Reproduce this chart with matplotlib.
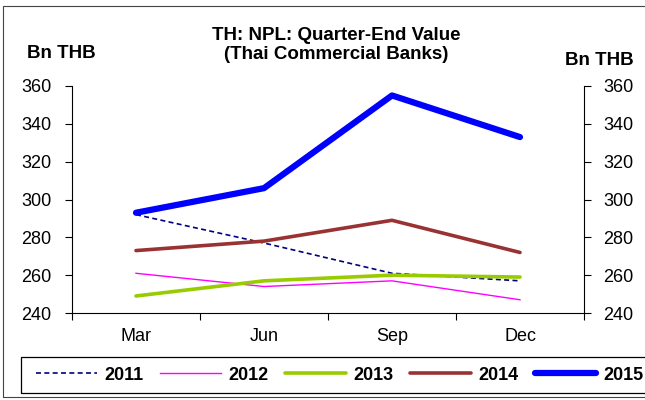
import matplotlib.pyplot as plt
from matplotlib.patches import Rectangle

plt.rcParams['font.family'] = ['Liberation Sans', 'DejaVu Sans']

quarters = ["Mar", "Jun", "Sep", "Dec"]
npl_2011 = [292, 277, 261, 257]
npl_2012 = [261, 254, 257, 247]
npl_2013 = [249, 257, 260, 259]
npl_2014 = [273, 278, 289, 272]
npl_2015 = [293, 306, 355, 333]

yticks = [240, 260, 280, 300, 320, 340, 360]

W, H = 645, 400
fig = plt.figure(figsize=(W / 100, H / 100), dpi=100)
ax = fig.add_axes([72 / W, 1 - 313 / H, (584 - 72) / W, (313 - 86) / H])

x = range(len(quarters))
ax.plot(x, npl_2011, color="#000080", lw=1.2, ls=(0, (3, 2)), label="2011")
ax.plot(x, npl_2012, color="#ff00ff", lw=1.0, label="2012")
ax.plot(x, npl_2013, color="#99cc00", lw=2.6, solid_capstyle="round", label="2013")
ax.plot(x, npl_2014, color="#993333", lw=2.6, solid_capstyle="round", label="2014")
ax.plot(x, npl_2015, color="#0000ff", lw=4.5, solid_capstyle="round",
        solid_joinstyle="round", label="2015")

ax.set_xlim(-0.5, 3.5)
ax.set_ylim(240, 360)
ax.set_yticks(yticks)
ax.tick_params(axis="y", direction="out", length=5, labelsize=13, pad=10)
ax.set_xticks(list(x))
ax.set_xticklabels(quarters)
ax.tick_params(axis="x", length=0, labelsize=13, pad=11)
# category separators, plus short stubs where the side axes cross the bottom
ax.set_xticks([-0.5, 0.5, 1.5, 2.5, 3.5], minor=True)
ax.tick_params(axis="x", which="minor", direction="out", length=5, width=0.8)
ax.spines["top"].set_visible(False)
ax.spines["right"].set_visible(False)
for s in ["left", "bottom"]:
    ax.spines[s].set_linewidth(0.8)

ax2 = ax.twinx()
ax2.set_ylim(240, 360)
ax2.set_yticks(yticks)
ax2.tick_params(axis="y", direction="out", length=5, labelsize=13, pad=9)
ax2.spines["top"].set_visible(False)
ax2.spines["left"].set_visible(False)
ax2.spines["bottom"].set_visible(False)
ax2.spines["right"].set_linewidth(0.8)

fig.text(336 / W, 1 - 40 / H, "TH: NPL: Quarter-End Value", ha="center",
         va="baseline", fontsize=13.5, fontweight="bold")
fig.text(336 / W, 1 - 59 / H, "(Thai Commercial Banks)", ha="center",
         va="baseline", fontsize=13.5, fontweight="bold")
fig.text(61 / W, 1 - 58 / H, "Bn THB", ha="center", va="baseline",
         fontsize=13.5, fontweight="bold")
fig.text(599 / W, 1 - 65 / H, "Bn THB", ha="center", va="baseline",
         fontsize=13.5, fontweight="bold")

# legend box runs off the right edge, so its frame is drawn separately
fig.patches.append(Rectangle((21 / W, 1 - 393 / H), 1.0, 36 / H,
                             transform=fig.transFigure, fill=False,
                             edgecolor="black", lw=0.9))
handles, labels = ax.get_legend_handles_labels()
leg = fig.legend(handles, labels, loc="center left", ncol=5,
                 bbox_to_anchor=(36 / W, 1 - 375 / H),
                 prop={"weight": "bold", "size": 13},
                 handlelength=3.4, handletextpad=0.4, columnspacing=0.9,
                 frameon=False, borderpad=0, borderaxespad=0)

fig.patches.append(Rectangle((3 / W, 3 / H), 1.0, 391 / H,
                             transform=fig.transFigure, fill=False,
                             edgecolor="#444444", lw=0.8))

fig.savefig("out.png", dpi=100)
